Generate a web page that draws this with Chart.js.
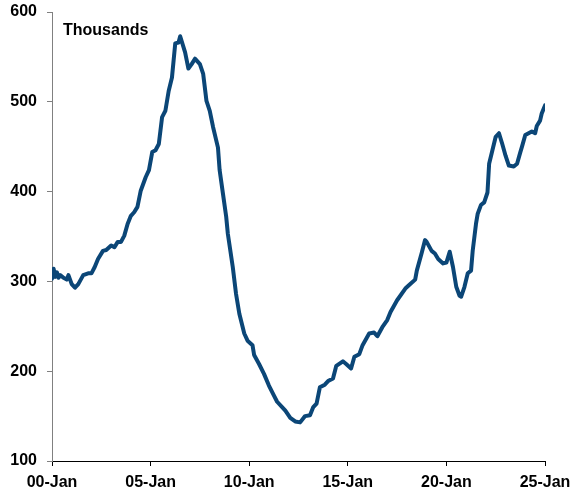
<!DOCTYPE html>
<html>
<head>
<meta charset="utf-8">
<script src="https://cdn.jsdelivr.net/npm/chart.js@4/dist/chart.umd.min.js"></script>
<style>
  html, body { margin: 0; padding: 0; background: #ffffff; }
  #wrap { width: 572px; height: 492px; position: relative; }
</style>
</head>
<body>
<div id="wrap"><canvas id="c" width="572" height="492"></canvas></div>
<script>
// Months since Jan 2000 (x) and values in thousands (y)
const months = [0,1,2,3,4,5,7,9,10,12,14,16,19,22,24,26,28,31,33,36,38,40,42,44,46,48,50,52,54,57,59,61,63,65,67,69,71,73,74,75,77,78,81,83,85,87,90,92,94,96,98,101,102,104,106,107,110,112,114,117,119,122,123,126,129,132,135,137,142,145,148,151,154,157,159,161,163,166,168,171,173,177,179,182,184,187,189,193,196,198,201,204,206,210,215,218,221,222,225,227,228,231,233,235,238,240,242,244,246,248,249,251,253,255,256,258,259,261,263,265,266,268,270,272,274,276,278,281,283,285,286,288,290,292,294,295,297,298,300];
const values = [303,314,305,310,304,307,304,302,307,297,293,297,307,309,309,316,325,334,335,340,338,344,344,351,364,373,377,383,401,416,424,444,446,453,483,490,512,527,546,565,566,573,555,537,542,548,542,531,501,490,472,449,424,398,372,353,316,286,264,242,234,229,218,208,197,184,173,166,156,148,144,143,150,151,160,164,182,185,189,192,206,211,208,203,216,219,229,242,243,239,249,257,266,279,292,297,302,312,332,346,344,334,331,325,320,321,333,316,294,284,283,294,309,312,334,364,375,385,388,399,431,446,461,465,453,440,429,428,431,444,450,463,465,467,465,473,479,487,496];
const tickLabels = ["00-Jan","05-Jan","10-Jan","15-Jan","20-Jan","25-Jan"];
const yTicks = [100,200,300,400,500,600];
const unitLabel = "Thousands";

const points = months.map((m, i) => ({ x: m, y: values[i] }));

const unitPlugin = {
  id: 'unitLabel',
  afterDraw(chart) {
    const ctx = chart.ctx;
    ctx.save();
    ctx.font = 'bold 16px "Liberation Sans", Arial, sans-serif';
    ctx.fillStyle = '#000000';
    ctx.textBaseline = 'alphabetic';
    ctx.textAlign = 'left';
    ctx.fillText(unitLabel, chart.chartArea.left + 11, 35);
    ctx.restore();
  }
};

const font = { family: '"Liberation Sans", Arial, sans-serif', size: 16, weight: 'bold' };

new Chart(document.getElementById('c'), {
  type: 'line',
  data: {
    datasets: [{
      data: points,
      borderColor: '#0b4677',
      borderWidth: 4,
      pointRadius: 0,
      tension: 0,
      fill: false,
      borderJoinStyle: 'round',
      borderCapStyle: 'round'
    }]
  },
  options: {
    responsive: false,
    animation: false,
    devicePixelRatio: 1,
    layout: { padding: { top: 12, right: 27, left: 0, bottom: 0 } },
    plugins: { legend: { display: false }, tooltip: { enabled: false } },
    scales: {
      x: {
        type: 'linear',
        min: 0,
        max: 300,
        afterBuildTicks(scale) {
          scale.ticks = tickLabels.map((_, i) => ({ value: i * 60 }));
        },
        afterFit(scale) {
          scale.height = 31;
          scale.paddingLeft = 0; scale.paddingRight = 0;
          scale.paddingTop = 0; scale.paddingBottom = 0;
        },
        ticks: {
          color: '#000000',
          font: font,
          padding: 7,
          maxRotation: 0,
          autoSkip: false,
          callback: (v) => tickLabels[Math.round(v / 60)]
        },
        grid: { drawOnChartArea: false, drawTicks: true, tickLength: 5, color: '#000000', lineWidth: 1 },
        border: { display: true, color: '#000000', width: 1 }
      },
      y: {
        min: 100,
        max: 600,
        afterBuildTicks(scale) {
          scale.ticks = yTicks.map(v => ({ value: v }));
        },
        afterFit(scale) {
          scale.width = 52;
          scale.paddingLeft = 0; scale.paddingRight = 0;
          scale.paddingTop = 0; scale.paddingBottom = 0;
        },
        ticks: { color: '#000000', font: font, padding: 10 },
        grid: { drawOnChartArea: false, drawTicks: true, tickLength: 5, color: '#808080', lineWidth: 1 },
        border: { display: true, color: '#808080', width: 1 }
      }
    }
  },
  plugins: [unitPlugin]
});
</script>
</body>
</html>
